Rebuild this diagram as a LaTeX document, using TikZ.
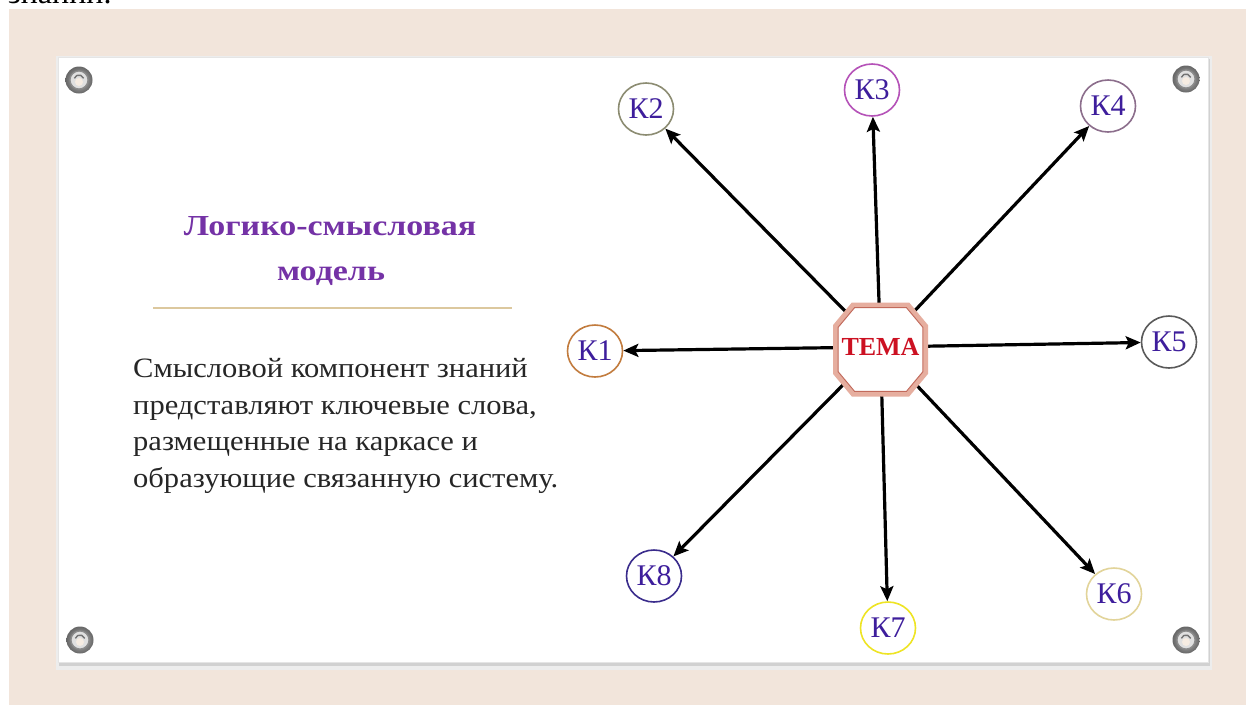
\documentclass[tikz,border=0pt]{standalone}
\usepackage{fontspec}
\setmainfont{Liberation Serif}
\newfontfamily\bodyfont[FakeStretch=1.09]{Liberation Serif}
\newfontfamily\titlefont[FakeStretch=1.17]{Liberation Serif}
\usetikzlibrary{shapes.geometric,arrows.meta}
\definecolor{beige}{HTML}{F2E5DB}
\definecolor{titlepurple}{HTML}{7432A6}
\definecolor{tanline}{HTML}{DCC89E}
\definecolor{textdark}{HTML}{262626}
\definecolor{kblue}{HTML}{3E1E9C}
\definecolor{temared}{HTML}{CC1122}
\definecolor{octband}{HTML}{E6AE9F}
\definecolor{octline}{HTML}{C26A5B}
\definecolor{ck1}{HTML}{C27C3E}
\definecolor{ck2}{HTML}{8C8C72}
\definecolor{ck3}{HTML}{B552B8}
\definecolor{ck4}{HTML}{8C6E8C}
\definecolor{ck5}{HTML}{5A5A5A}
\definecolor{ck6}{HTML}{E2D49A}
\definecolor{ck7}{HTML}{EEE424}
\definecolor{ck8}{HTML}{3A2C8C}
\pgfdeclarelayer{back}
\pgfdeclarelayer{arrowlayer}
\pgfsetlayers{back,arrowlayer,main}
\begin{document}
\begin{tikzpicture}[x=1pt,y=-1pt,
  kcirc/.style={ellipse, minimum width=55pt, minimum height=52pt, inner sep=0pt,
    line width=1.6pt, fill=white, text=kblue, font=\fontsize{30}{30}\selectfont},
  arr/.style={line width=3.2pt, black, -{Stealth[length=15pt,width=13pt,inset=3pt]}},
  titletext/.style={text=titlepurple, font=\titlefont\fontsize{29}{29}\selectfont\bfseries, inner sep=0pt},
  bodytext/.style={text=textdark, font=\bodyfont\fontsize{28}{28}\selectfont, inner sep=0pt, anchor=base west}
]
\useasboundingbox (0,0) rectangle (1246,705);
\clip (0,0) rectangle (1246,705);
\begin{pgfonlayer}{back}
  \fill[white] (0,0) rectangle (1246,705);
  \fill[beige] (9,9) rectangle (1246,705);
  \fill[black!7] (56,56) rectangle (1212,670);
  \fill[black!18] (59,59) rectangle (1210,666);
  \fill[white] (58,57) rectangle (1208,662);
  \draw[black!10, line width=0.8pt] (58,57) rectangle (1208,662);
\end{pgfonlayer}

% cut-off text at top
\node[anchor=base west, inner sep=0pt, font=\fontsize{32}{32}\selectfont] (topword) at (8,3) {знаний.};

% pins
\foreach \px/\py in {79/80, 1186/79, 80/640, 1186/640}{
  \shade[inner color=black!25, outer color=black!60] (\px,\py) circle (13.5pt);
  \fill[black!12] (\px,\py) circle (9pt);
  \draw[black!45, line width=1.2pt] (\px,\py) circle (9pt);
  \draw[black!55, line width=1.4pt] ([shift={(160:5pt)}]\px,\py) arc (160:20:5pt);
  \fill[white!85!brown] (\px,\py+2) circle (4pt);
}

% title
\node[titletext, anchor=base] (title1) at (330,235) {Логико-смысловая};
\node[titletext, anchor=base] (title2) at (331,280) {модель};
\draw[tanline, line width=1.3pt] (153,308) -- (512,308);

% body text
\node[bodytext] (line1) at (133,377) {Смысловой компонент знаний};
\node[bodytext] (line2) at (133,414) {представляют ключевые слова,};
\node[bodytext] (line3) at (133,450) {размещенные на каркасе и};
\node[bodytext] (line4) at (133,487) {образующие связанную систему.};

% octagon
\begin{scope}[shift={(880.5,349.5)}]
  \fill[white] (-27.5,-45) -- (27.5,-45) -- (45,-23.5) -- (45,23.5) -- (27.5,45) -- (-27.5,45) -- (-45,23.5) -- (-45,-23.5) -- cycle;
  \draw[octband, line width=5pt, line join=miter] (-27.5,-44.5) -- (27.5,-44.5) -- (45,-23.5) -- (45,23.5) -- (27.5,44.5) -- (-27.5,44.5) -- (-45,23.5) -- (-45,-23.5) -- cycle;
  \draw[octline, line width=1pt] (-26,-41.8) -- (26,-41.8) -- (42.3,-22.3) -- (42.3,22.3) -- (26,41.8) -- (-26,41.8) -- (-42.3,22.3) -- (-42.3,-22.3) -- cycle;
\end{scope}
\node[text=temared, font=\fontsize{26}{26}\selectfont\bfseries, inner sep=0pt] (tema) at (880.5,347) {ТЕМА};

% key nodes
\node[kcirc, draw=ck1] (k1) at (595,351) {К1};
\node[kcirc, draw=ck2] (k2) at (646,109) {К2};
\node[kcirc, draw=ck3] (k3) at (872,90) {К3};
\node[kcirc, draw=ck4] (k4) at (1108,106) {К4};
\node[kcirc, draw=ck5] (k5) at (1169,342) {К5};
\node[kcirc, draw=ck6] (k6) at (1114,594) {К6};
\node[kcirc, draw=ck7] (k7) at (888,628) {К7};
\node[kcirc, draw=ck8] (k8) at (654,576) {К8};

\begin{pgfonlayer}{arrowlayer}
  \foreach \k in {k1,k2,k3,k4,k5,k6,k7,k8}{
    \draw[arr] (tema.center) -- (\k);
  }
\end{pgfonlayer}
\end{tikzpicture}
\end{document}
